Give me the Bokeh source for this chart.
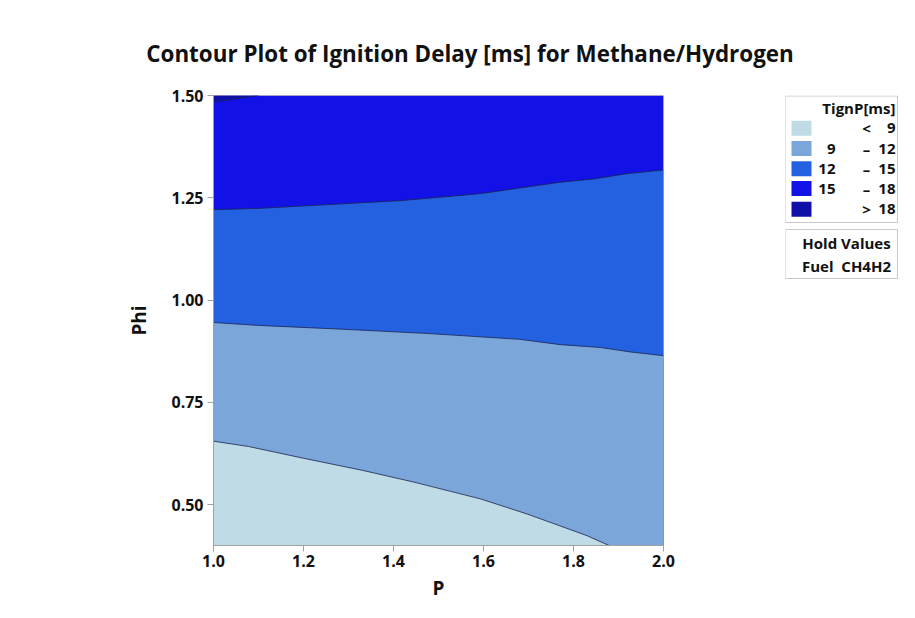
from bokeh.plotting import figure
from bokeh.models import FixedTicker, Range1d, PrintfTickFormatter
from bokeh.layouts import column, row
from bokeh.core.properties import value
from bokeh.embed import file_html
from bokeh.resources import INLINE

# ---- data ----
title_text = "Contour Plot of Ignition Delay [ms] for Methane/Hydrogen"
x_label = "P"
y_label = "Phi"
x_min, x_max = 1.0, 2.0
y_min, y_max = 0.4, 1.5
x_ticks = [1.0, 1.2, 1.4, 1.6, 1.8, 2.0]
y_ticks = [0.50, 0.75, 1.00, 1.25, 1.50]

# contour boundaries (P, Phi)
P_b9 = [1.0, 1.078, 1.197, 1.334, 1.445, 1.593, 1.697, 1.830, 1.879]
Phi_b9 = [0.655, 0.642, 0.614, 0.583, 0.555, 0.514, 0.477, 0.424, 0.400]
P_b12 = [1.0, 1.10, 1.30, 1.48, 1.68, 1.771, 1.86, 1.927, 2.0]
Phi_b12 = [0.945, 0.938, 0.928, 0.918, 0.904, 0.891, 0.884, 0.873, 0.864]
P_b15 = [1.0, 1.1, 1.216, 1.416, 1.593, 1.771, 1.845, 1.919, 2.0]
Phi_b15 = [1.221, 1.224, 1.231, 1.243, 1.26, 1.288, 1.296, 1.309, 1.318]
P_b18 = [1.0, 1.1]
Phi_b18 = [1.484, 1.5]

legend_title = "TignP[ms]"
legend_lo = ["", "9", "12", "15", ""]
legend_mid = ["<", "\u2013", "\u2013", "\u2013", ">"]
legend_hi = ["9", "12", "15", "18", "18"]
level_colors = ["#BEDBE6", "#7BA6D9", "#2461E1", "#1212E6", "#1010A8"]
hold_title = "Hold Values"
hold_text = "Fuel  CH4H2"

FONT = "Open Sans"
TXT = "#111111"

# ---- layout (page pixels) ----
PAGE_W, PAGE_H = 910, 610
TITLE_H = 80
FL, FT, FW, FH = 213, 95, 450, 450      # frame box on page
MAIN_W = 785
LEG_W = PAGE_W - MAIN_W
BODY_H = PAGE_H - TITLE_H
B_TOP = FT - TITLE_H
B_BOT = BODY_H - B_TOP - FH


def blank(width, height, x0, x1, y0, y1, top=0, bottom=0):
    f = figure(width=width, height=height, output_backend="svg", toolbar_location=None,
               x_range=Range1d(x0, x1), y_range=Range1d(y1, y0),
               x_axis_type=None, y_axis_type=None, min_border=0,
               min_border_top=top, min_border_bottom=bottom)
    f.xgrid.visible = False
    f.ygrid.visible = False
    f.outline_line_color = None
    f.background_fill_color = "white"
    f.border_fill_color = "white"
    return f


# ---- title strip ----
t = blank(PAGE_W, TITLE_H, 0, PAGE_W, 0, TITLE_H)
t.text(x=[469.5], y=[53], text=[title_text], text_align="center", text_baseline="middle",
       text_font=value(FONT), text_font_style="bold", text_font_size="22.4px", text_color=TXT)

# ---- main contour plot ----
p = figure(width=MAIN_W, height=BODY_H, output_backend="svg", toolbar_location=None,
           x_range=Range1d(x_min, x_max), y_range=Range1d(y_min, y_max),
           min_border_left=FL, min_border_right=MAIN_W - FL - FW,
           min_border_top=B_TOP, min_border_bottom=B_BOT)
p.xgrid.visible = False
p.ygrid.visible = False
p.outline_line_color = "#d0d0d0"
p.border_fill_color = "white"

p.quad(left=[x_min], right=[x_max], bottom=[y_min], top=[y_max],
       fill_color=level_colors[3], line_color=None)
p.patch([x_min] + P_b15 + [x_max, x_min], [Phi_b15[0]] + Phi_b15 + [y_min, y_min],
        fill_color=level_colors[2], line_color=None)
p.patch([x_min] + P_b12 + [x_max, x_min], [Phi_b12[0]] + Phi_b12 + [y_min, y_min],
        fill_color=level_colors[1], line_color=None)
p.patch(P_b9 + [x_min], Phi_b9 + [y_min], fill_color=level_colors[0], line_color=None)
p.patch(P_b18 + [x_min], Phi_b18 + [y_max], fill_color=level_colors[4], line_color=None)
for xs, ys in [(P_b9, Phi_b9), (P_b12, Phi_b12), (P_b15, Phi_b15), (P_b18, Phi_b18)]:
    p.line(xs, ys, line_color="#1b2550", line_width=0.8)

for ax in (p.xaxis[0], p.yaxis[0]):
    ax.axis_line_color = "#a0a0a0"
    ax.major_tick_line_color = "#a0a0a0"
    ax.major_tick_in = 0
    ax.major_tick_out = 6
    ax.minor_tick_line_color = None
    ax.major_label_text_font = FONT
    ax.major_label_text_font_style = "bold"
    ax.major_label_text_font_size = "16px"
    ax.major_label_text_color = TXT
    ax.axis_label_text_font = FONT
    ax.axis_label_text_font_style = "bold"
    ax.axis_label_text_font_size = "19px"
    ax.axis_label_text_color = TXT
p.xaxis.ticker = FixedTicker(ticks=x_ticks)
p.yaxis.ticker = FixedTicker(ticks=y_ticks)
p.xaxis.formatter = PrintfTickFormatter(format="%.1f")
p.yaxis.formatter = PrintfTickFormatter(format="%.2f")
p.xaxis.axis_label = x_label
p.yaxis.axis_label = y_label
p.xaxis.major_label_standoff = 3
p.yaxis.major_label_standoff = 4
p.xaxis.axis_label_standoff = 5
p.yaxis.axis_label_standoff = 16

# ---- legend panel (coordinates = page pixels, frame aligned with main frame) ----
q = blank(LEG_W, BODY_H, MAIN_W, PAGE_W, FT, FT + FH, top=B_TOP, bottom=B_BOT)
q.quad(left=[785, 785], right=[897, 897], top=[95.5, 229], bottom=[222, 278],
       fill_color="white", line_color="#c8c8c8", line_width=1)
row_y = [127.7, 148, 168.3, 188, 208.7]
q.quad(left=[791] * 5, right=[811] * 5, top=[y - 7.5 for y in row_y],
       bottom=[y + 7.5 for y in row_y], fill_color=level_colors, line_color=None)
leg_style = dict(text_baseline="middle", text_font=value(FONT), text_font_style="bold",
                 text_font_size="15px", text_color=TXT)
q.text(x=[895], y=[107.5], text=[legend_title], text_align="right", **leg_style)
q.text(x=[835] * 5, y=row_y, text=legend_lo, text_align="right", **leg_style)
q.text(x=[866] * 5, y=row_y, text=legend_mid, text_align="center", **leg_style)
q.text(x=[895] * 5, y=row_y, text=legend_hi, text_align="right", **leg_style)
q.text(x=[846, 846], y=[242, 265], text=[hold_title, hold_text.replace(" ", "\u00a0")],
       text_align="center", **leg_style)

layout = column(t, row(p, q, spacing=0), spacing=0)
open("out.html", "w").write(file_html(layout, INLINE))
